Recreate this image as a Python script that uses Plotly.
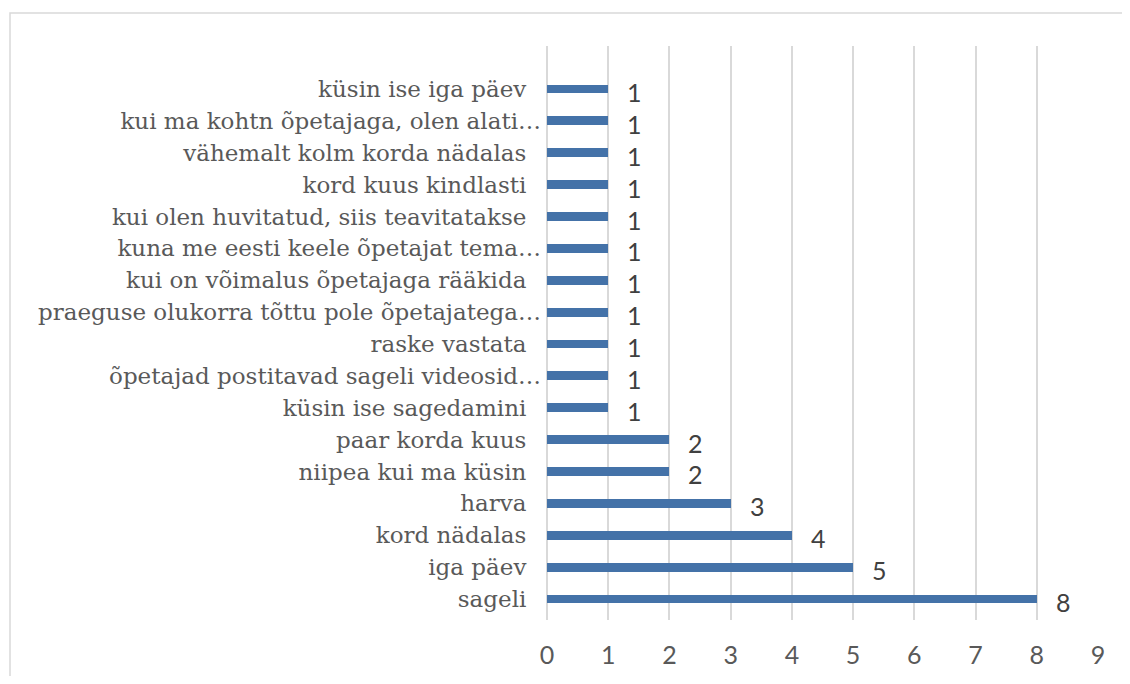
import plotly.graph_objects as go

categories = [
    "sageli",
    "iga päev",
    "kord nädalas",
    "harva",
    "niipea kui ma küsin",
    "paar korda kuus",
    "küsin ise sagedamini",
    "õpetajad postitavad sageli videosid…",
    "raske vastata",
    "praeguse olukorra tõttu pole õpetajatega…",
    "kui on võimalus õpetajaga rääkida",
    "kuna me eesti keele õpetajat tema…",
    "kui olen huvitatud, siis teavitatakse",
    "kord kuus kindlasti",
    "vähemalt kolm korda nädalas",
    "kui ma kohtn õpetajaga, olen alati…",
    "küsin ise iga päev",
]
values = [8, 5, 4, 3, 2, 2, 1, 1, 1, 1, 1, 1, 1, 1, 1, 1, 1]
x_ticks = [0, 1, 2, 3, 4, 5, 6, 7, 8, 9]

# page has an 8px body margin; work in figure coordinates
OFF = 8
W, H = 1130 - 2 * OFF, 684 - 2 * OFF
left, right, top, bottom = 547 - OFF, 1098 - OFF, 46 - OFF, 620 - OFF
ml, mr, mt, mb = left, W - right, top, H - bottom

tick_text = [c if c.endswith("…") else c + "\u00a0\u00a0" for c in categories]

fig = go.Figure()
fig.add_trace(go.Bar(
    x=values,
    y=list(range(len(categories))),
    orientation="h",
    width=0.28,
    marker=dict(color="#4472A8", line=dict(width=0)),
    hoverinfo="skip",
))

for i, v in enumerate(values):
    fig.add_annotation(
        x=v, y=i, text=str(v), showarrow=False,
        xanchor="left", yanchor="middle", xshift=17, yshift=-3,
        font=dict(family="Lato, Liberation Sans, sans-serif", size=25, color="#404040"),
    )

# chart border
pw = W - ml - mr
ph = H - mt - mb
fig.add_shape(
    type="rect", xref="paper", yref="paper",
    x0=(10 - OFF - ml) / pw, x1=(W + 20 - ml) / pw,
    y0=(-20 - mb) / ph, y1=(H - (13 - OFF) - mb) / ph,
    line=dict(color="#D9D9D9", width=1.5), fillcolor="rgba(0,0,0,0)", layer="below",
)

fig.update_layout(
    width=W, height=H,
    margin=dict(l=ml, r=mr, t=mt, b=mb, pad=0, autoexpand=False),
    paper_bgcolor="white", plot_bgcolor="white",
    showlegend=False,
    bargap=0,
    xaxis=dict(
        range=[0, 9], tickvals=x_ticks, ticktext=[str(t) for t in x_ticks],
        showgrid=True, gridcolor="#D9D9D9", gridwidth=1.5,
        zeroline=True, zerolinecolor="#D9D9D9", zerolinewidth=1.5,
        showline=False, ticks="", ticklabelstandoff=18, automargin=False,
        tickfont=dict(family="Lato, Liberation Sans, sans-serif", size=25, color="#595959"),
        fixedrange=True,
    ),
    yaxis=dict(
        range=[-0.66, 17.35],
        tickvals=list(range(len(categories))), ticktext=tick_text,
        showgrid=False, zeroline=False, showline=False, ticks="",
        ticklabelstandoff=5, automargin=False,
        tickfont=dict(family="DejaVu Serif, serif", size=23, color="#595959"),
        fixedrange=True,
    ),
)

fig.write_html("out.html")
